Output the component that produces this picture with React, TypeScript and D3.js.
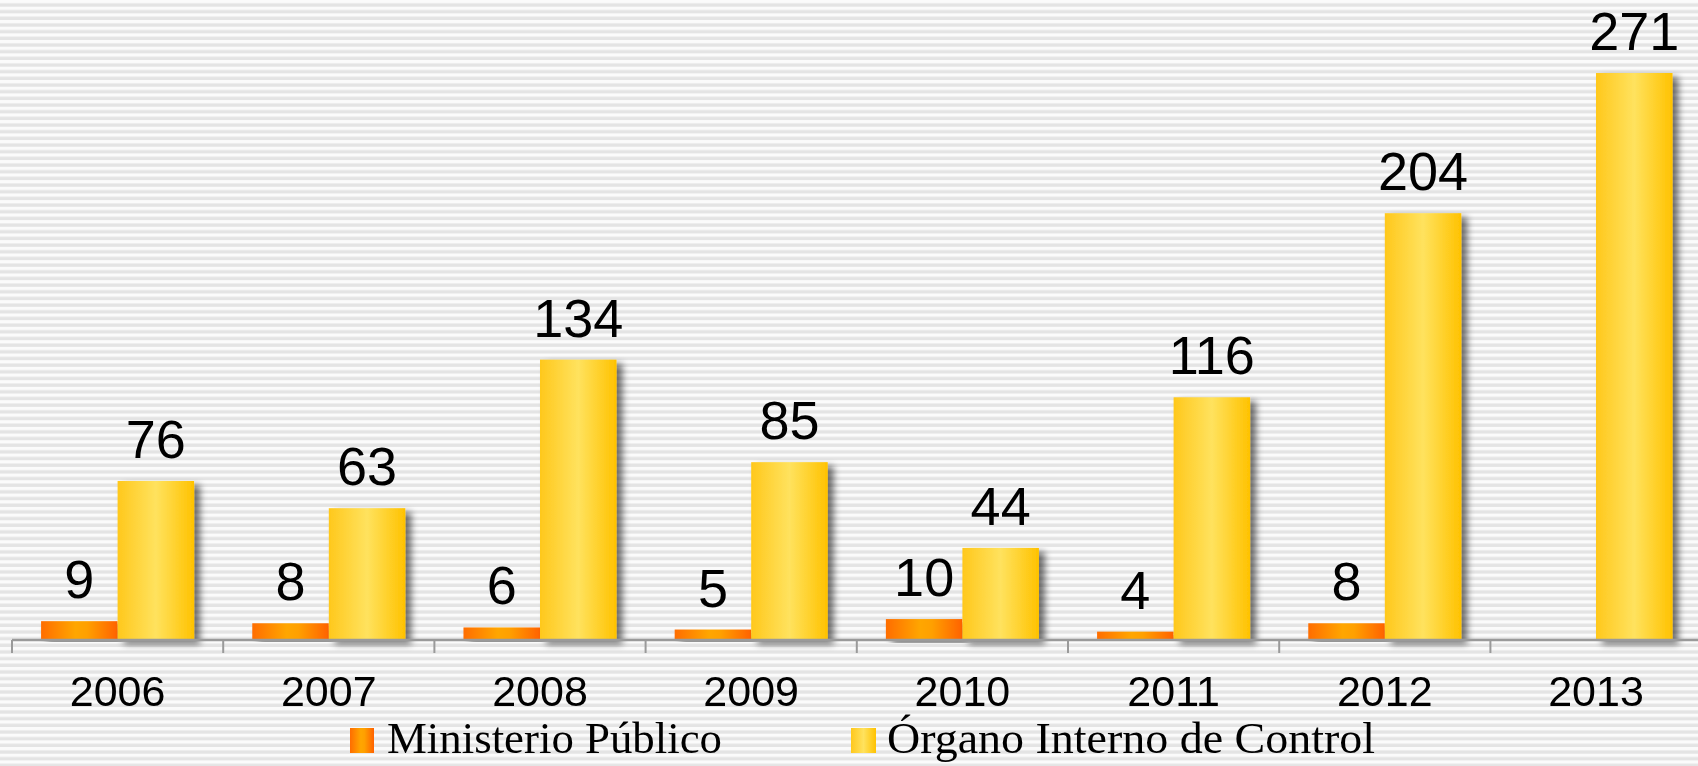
import React from "react";
import * as d3 from "d3";

const years = ["2006", "2007", "2008", "2009", "2010", "2011", "2012", "2013"];
const seriesNames = ["Ministerio Público", "Órgano Interno de Control"];
const ministerioPublico: (number | null)[] = [9, 8, 6, 5, 10, 4, 8, null];
const organoInterno: number[] = [76, 63, 134, 85, 44, 116, 204, 271];

const W = 1698;
const H = 766;

export default function App() {
  const x0 = d3.scaleBand<string>().domain(years).range([12, 12 + 211.2 * years.length]).paddingInner(0).paddingOuter(0);
  const x1 = d3.scaleBand<string>().domain(seriesNames).range([0, x0.step()]).paddingInner(0).paddingOuter(0.38);
  const y = d3.scaleLinear().domain([0, 271]).range([640, 73]);
  const series = [ministerioPublico, organoInterno];
  const grads = ["gOrange", "gYellow"];

  return (
    <svg width={W} height={H} style={{ position: "fixed", left: 0, top: 0 }} xmlns="http://www.w3.org/2000/svg">
      <defs>
        <pattern id="stripes" width="20" height="6.67" patternUnits="userSpaceOnUse">
          <rect width="20" height="6.67" fill="#fbfbfb" />
          <rect y="3.4" width="20" height="3.27" fill="#e4e4e4" />
          <rect y="3.0" width="20" height="0.8" fill="#eeeeee" />
        </pattern>
        <linearGradient id="gOrange" x1="0" x2="1" y1="0" y2="0">
          <stop offset="0" stopColor="#ff6d00" />
          <stop offset="0.45" stopColor="#ffa600" />
          <stop offset="0.6" stopColor="#ffa000" />
          <stop offset="1" stopColor="#ff6200" />
        </linearGradient>
        <linearGradient id="gYellow" x1="0" x2="1" y1="0" y2="0">
          <stop offset="0" stopColor="#ffc81c" />
          <stop offset="0.5" stopColor="#ffe25e" />
          <stop offset="1" stopColor="#ffc200" />
        </linearGradient>
        <filter id="shadow" x="-20%" y="-5%" width="150%" height="115%">
          <feGaussianBlur in="SourceAlpha" stdDeviation="3.5" />
          <feOffset dx="6" dy="4" result="b" />
          <feComponentTransfer>
            <feFuncA type="linear" slope="0.55" />
          </feComponentTransfer>
          <feMerge>
            <feMergeNode />
            <feMergeNode in="SourceGraphic" />
          </feMerge>
        </filter>
      </defs>
      <rect width={W} height={H} fill="url(#stripes)" />

      {years.map((yr, i) => (
        <g key={yr} transform={`translate(${x0(yr)},0)`}>
          {series.map((s, si) => {
            const v = s[i];
            if (v == null) return null;
            const bx = x1(seriesNames[si])!;
            return (
              <rect
                key={si}
                x={bx}
                y={y(v)}
                width={x1.bandwidth()}
                height={y(0) - y(v)}
                fill={`url(#${grads[si]})`}
                filter="url(#shadow)"
              />
            );
          })}
        </g>
      ))}

      {/* axis */}
      <line x1={12} x2={W} y1={y(0)} y2={y(0)} stroke="#9a9a9a" strokeWidth={2.5} />
      {years.map((yr) => (
        <line key={yr} x1={x0(yr)!} x2={x0(yr)!} y1={y(0)} y2={y(0) + 13} stroke="#9a9a9a" strokeWidth={2} />
      ))}
      {years.map((yr) => (
        <text
          key={yr}
          x={x0(yr)! + x0.bandwidth() / 2}
          y={706}
          textAnchor="middle"
          fontFamily="'Liberation Sans', Arial, sans-serif"
          fontSize={43}
          fill="#000"
        >
          {yr}
        </text>
      ))}

      {/* value labels */}
      {years.map((yr, i) => (
        <g key={yr} transform={`translate(${x0(yr)},0)`}>
          {series.map((s, si) => {
            const v = s[i];
            if (v == null) return null;
            return (
              <text
                key={si}
                x={x1(seriesNames[si])! + x1.bandwidth() / 2}
                y={y(v) - 23}
                textAnchor="middle"
                fontFamily="'Liberation Sans', Arial, sans-serif"
                fontSize={54}
                fill="#000"
              >
                {v}
              </text>
            );
          })}
        </g>
      ))}

      {/* legend */}
      <g>
        <rect x={350} y={728} width={24} height={25} fill="url(#gOrange)" />
        <text x={387} y={753} fontFamily="'Liberation Serif', 'Times New Roman', serif" fontSize={44} textLength={335} lengthAdjust="spacingAndGlyphs" fill="#000">
          {seriesNames[0]}
        </text>
        <rect x={851} y={728} width={25} height={25} fill="url(#gYellow)" />
        <text x={887} y={753} fontFamily="'Liberation Serif', 'Times New Roman', serif" fontSize={44} textLength={488} lengthAdjust="spacingAndGlyphs" fill="#000">
          {seriesNames[1]}
        </text>
      </g>
    </svg>
  );
}
